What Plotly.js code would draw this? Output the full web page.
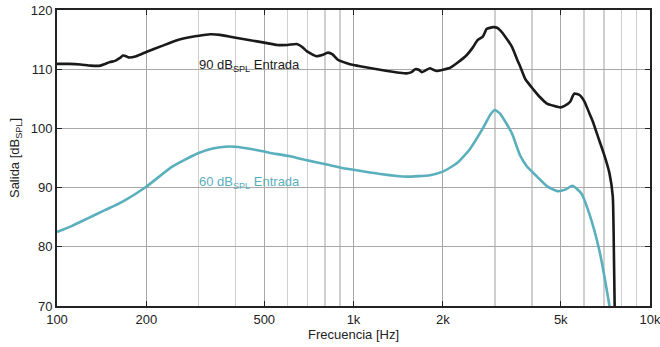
<!DOCTYPE html>
<html><head><meta charset="utf-8">
<script src="https://cdn.plot.ly/plotly-3.0.1.min.js"></script>
<style>html,body{margin:0;padding:0;background:#fff}#c{width:660px;height:347px}</style>
</head><body><div id="c"></div>
<script>
const freq90 = [100,110,120,130,140,151,157,163,167,171,174,185,200,225,254,280,296,328,355,392,448,511,553,600,643,670,697,750,785,820,850,885,950,1000,1110,1300,1430,1510,1570,1615,1660,1700,1750,1810,1860,1910,2000,2110,2230,2410,2520,2620,2730,2780,2810,2960,3050,3120,3250,3420,3580,3640,3800,4040,4250,4490,4750,4980,5150,5380,5480,5560,5800,6000,6240,6400,6740,7000,7300,7490,7560,7620];
const out90 = [110.9,110.9,110.8,110.6,110.6,111.2,111.4,111.9,112.3,112.2,112.0,112.2,112.9,113.9,114.9,115.4,115.6,115.9,115.8,115.4,114.9,114.4,114.1,114.1,114.25,113.8,113.0,112.2,112.4,112.8,112.5,111.6,111.0,110.7,110.3,109.7,109.4,109.3,109.5,110.0,109.9,109.5,109.8,110.15,109.9,109.7,109.9,110.2,111.0,112.4,113.6,114.9,115.5,116.3,116.8,117.1,117.0,116.6,115.5,113.8,111.4,110.6,108.3,106.6,105.3,104.2,103.8,103.55,103.8,104.5,105.4,105.9,105.6,104.6,102.6,101.3,98.0,95.6,92.4,88.5,78,66];
const freq60 = [100,112,127,145,166,200,244,299,335,368,398,465,520,610,700,813,900,1000,1230,1510,1810,2000,2230,2460,2730,2900,3000,3120,3420,3640,3840,4160,4500,4870,5200,5480,5870,6240,6740,7300,7400];
const out60 = [82.5,83.5,84.8,86.2,87.6,90.15,93.5,95.8,96.6,96.9,96.9,96.4,95.9,95.3,94.6,93.9,93.4,93.0,92.3,91.85,92.1,92.7,94.1,96.4,100.0,102.4,103.1,102.5,99.2,95.5,93.6,91.85,90.2,89.4,89.7,90.3,89.0,85.6,79.5,70,68];
const xTickVals = [100,200,500,1000,2000,5000,10000];
const xTickText = ['100','200','500','1k','2k','5k','10k'];
const xMinorVals = [300,400,600,700,800,900,3000,4000,6000,7000,8000,9000];
const yTickVals = [70,80,90,100,110,120];
const labels = ['90 dB<sub>SPL</sub> Entrada','60 dB<sub>SPL</sub> Entrada'];
const colors = ['#1a1a1a','#5aafbd'];

const font = {family:'"Liberation Sans", Arial, sans-serif', size:13, color:'#222'};
const traces = [
  {x:freq90, y:out90, mode:'lines', line:{color:colors[0], width:2.6, shape:'spline', smoothing:0.5}, hoverinfo:'skip'},
  {x:freq60, y:out60, mode:'lines', line:{color:colors[1], width:2.6, shape:'spline', smoothing:0.5}, hoverinfo:'skip'}
];
const layout = {
  width:660, height:347,
  margin:{l:57, r:10, t:10, b:41},
  paper_bgcolor:'#fff', plot_bgcolor:'#fff',
  showlegend:false, font:font,
  xaxis:{type:'log', range:[2,4], tickmode:'array', tickvals:xTickVals, ticktext:xTickText, ticklabeloverflow:'allow',
    ticks:'inside', ticklen:5, tickcolor:'#222', showline:true, linecolor:'#222', linewidth:2, mirror:'ticks',
    showgrid:true, gridcolor:'#a8a8a8', gridwidth:1, zeroline:false,
    minor:{tickmode:'array', tickvals:xMinorVals, showgrid:true, gridcolor:'#cfcfcf', gridwidth:1.5, ticks:''},
    title:{text:'Frecuencia [Hz]', font:font, standoff:3}},
  yaxis:{range:[70,120], tickmode:'array', tickvals:yTickVals,
    ticks:'inside', ticklen:5, tickcolor:'#222', showline:true, linecolor:'#222', linewidth:2, mirror:'ticks',
    showgrid:true, gridcolor:'#a8a8a8', gridwidth:1, zeroline:false,
    title:{text:'Salida [dB<sub>SPL</sub>]', font:font, standoff:8}},
  annotations:[
    {x:Math.log10(297), y:110.7, xref:'x', yref:'y', text:labels[0], showarrow:false, xanchor:'left', yanchor:'middle', font:{family:font.family, size:13, color:colors[0]}},
    {x:Math.log10(297), y:90.9, xref:'x', yref:'y', text:labels[1], showarrow:false, xanchor:'left', yanchor:'middle', font:{family:font.family, size:13, color:colors[1]}}
  ]
};
Plotly.newPlot('c', traces, layout, {staticPlot:true, displayModeBar:false});
</script></body></html>
